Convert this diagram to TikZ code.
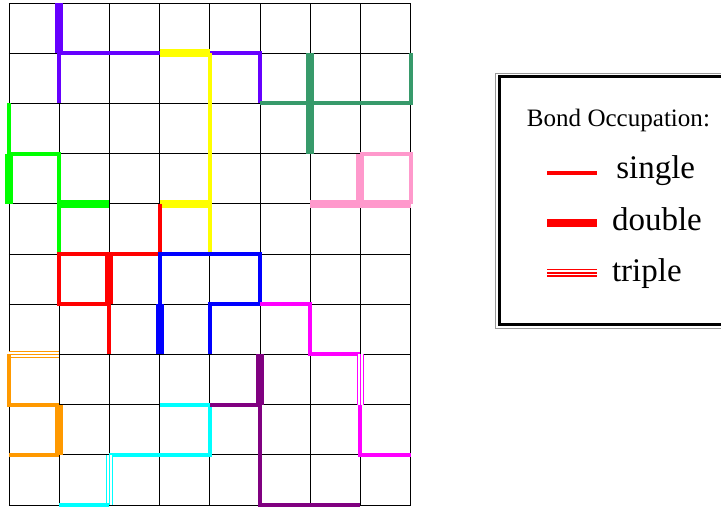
\documentclass[tikz,border=0pt]{standalone}
\usepackage{fontspec}
\setmainfont{Liberation Serif}
\definecolor{bondViolet}{HTML}{6600FF}
\definecolor{bondYellow}{HTML}{FFFF00}
\definecolor{bondSea}{HTML}{379A6B}
\definecolor{bondLime}{HTML}{00FF00}
\definecolor{bondRed}{HTML}{FF0000}
\definecolor{bondBlue}{HTML}{0000FF}
\definecolor{bondMag}{HTML}{FF00FF}
\definecolor{bondPink}{HTML}{FF99CC}
\definecolor{bondOrange}{HTML}{FF9900}
\definecolor{bondCyan}{HTML}{00FFFF}
\definecolor{bondPurple}{HTML}{800080}
\definecolor{frameshade}{HTML}{999999}

\begin{document}
\begin{tikzpicture}[x=1cm,y=1cm,
bond/.style={draw=#1,line width=2.3pt},
dbond/.style={draw=#1,line width=4.6pt},
tbond/.style={draw=#1,line width=4.4pt,postaction={draw=white,line width=2.6pt},postaction={draw=#1,line width=1pt}},
legendtext/.style={inner sep=0pt,font=\fontsize{18.7}{20}\selectfont,anchor=base west}]
\useasboundingbox (-0.179,-0.02) rectangle (14.183,10.06);
\draw[line width=.55pt] (0,0) grid (8,10);

\draw[bond=bondViolet] (1,8)--(1,9)--(5,9)--(5,8);
\draw[dbond=bondViolet] (1,10)--(1,9);
\draw[dbond=bondYellow] (3,9)--(4,9);
\draw[bond=bondYellow] (4,9)--(4,5);
\draw[dbond=bondYellow] (3,6)--(4,6);
\draw[dbond=bondSea] (6,9)--(6,7);
\draw[bond=bondSea] (5,8)--(8,8)--(8,9);
\draw[bond=bondLime] (0,8)--(0,7)--(1,7)--(1,5);
\draw[dbond=bondLime] (0,7)--(0,6);
\draw[dbond=bondLime] (1,6)--(2,6);
\draw[bond=bondRed] (3,6)--(3,5)--(1,5)--(1,4)--(2,4)--(2,3);
\draw[dbond=bondRed] (2,5)--(2,4);
\draw[bond=bondBlue] (3,4)--(3,5)--(5,5)--(5,4)--(4,4)--(4,3);
\draw[dbond=bondBlue] (3,4)--(3,3);
\draw[bond=bondMag] (5,4)--(6,4)--(6,3)--(7,3);
\draw[tbond=bondMag] (7,3)--(7,2);
\draw[bond=bondMag] (7,2)--(7,1)--(8,1);
\draw[bond=bondPink] (7,7)--(8,7)--(8,6);
\draw[dbond=bondPink] (7,6)--(7,7);
\draw[dbond=bondPink] (6,6)--(8,6);
\draw[tbond=bondOrange] (0,3)--(1,3);
\draw[bond=bondOrange] (0,3)--(0,2)--(1,2);
\draw[dbond=bondOrange] (1,2)--(1,1);
\draw[bond=bondOrange] (1,1)--(0,1);
\draw[bond=bondCyan] (3,2)--(4,2)--(4,1)--(2,1);
\draw[tbond=bondCyan] (2,1)--(2,0);
\draw[bond=bondCyan] (2,0)--(1,0);
\draw[dbond=bondPurple] (5,3)--(5,2);
\draw[bond=bondPurple] (4,2)--(5,2)--(5,0)--(7,0);

% legend
\draw[draw=frameshade,line width=.5pt] (9.691,3.526) rectangle (14.5,8.596);
\draw[line width=1.7pt] (9.761,3.596) rectangle (14.5,8.536);
\node[font=\fontsize{14.2}{16}\selectfont,inner sep=0pt,anchor=base] (title) at (12.14,7.536) {Bond Occupation:};
\draw[bond=bondRed] (10.717,6.62)--(11.713,6.62);
\node[legendtext] (single) at (12.09,6.514) {single};
\draw[dbond=bondRed] (10.717,5.624)--(11.713,5.624);
\node[legendtext] (double) at (12.006,5.464) {double};
\draw[tbond=bondRed] (10.717,4.628)--(11.713,4.628);
\node[legendtext] (triple) at (12.006,4.448) {triple};
\end{tikzpicture}
\end{document}
